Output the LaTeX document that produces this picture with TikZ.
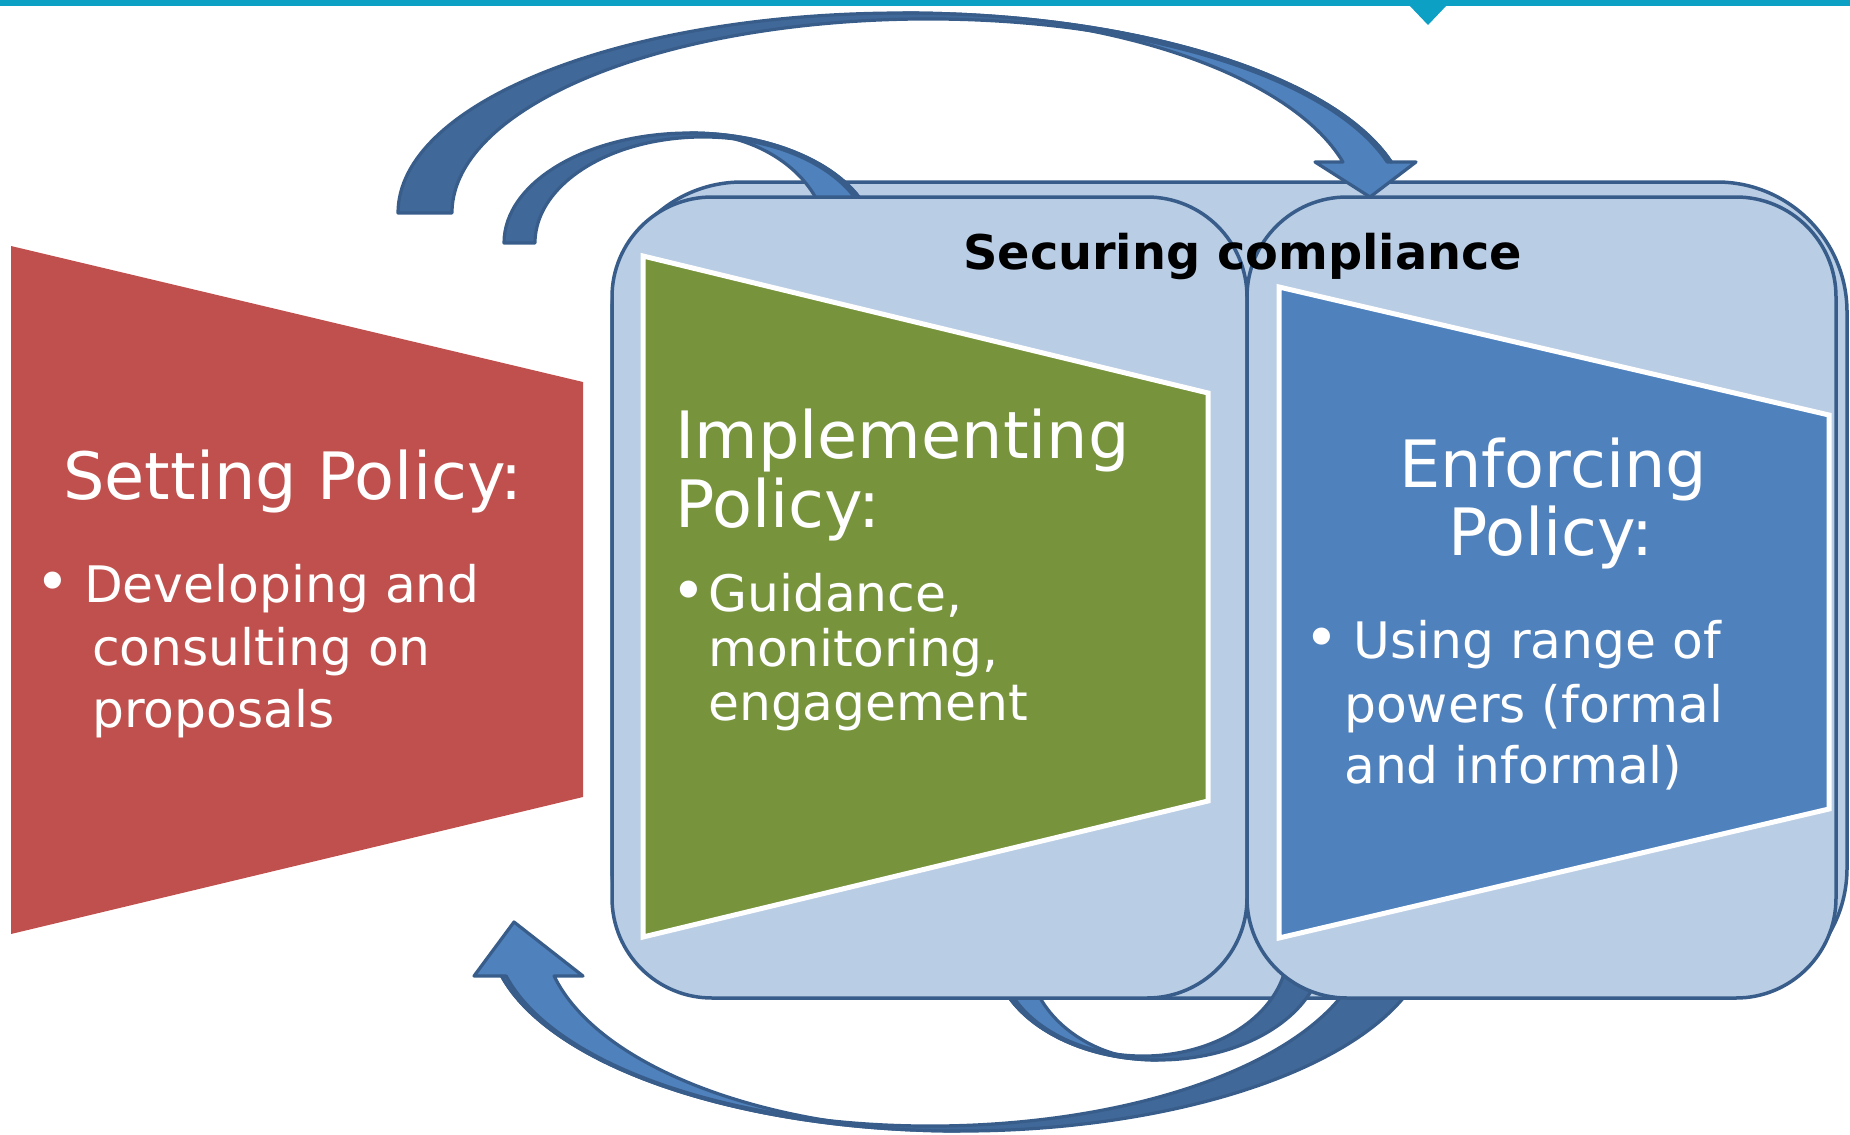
\documentclass[tikz,border=0pt]{standalone}
\usepackage{fontspec}
\setmainfont{DejaVu Sans}
\usetikzlibrary{calc}
\definecolor{barteal}{RGB}{11,160,196}
\definecolor{edgeblue}{RGB}{56,93,138}
\definecolor{paleblue}{RGB}{185,205,229}
\definecolor{frontblue}{RGB}{79,129,189}
\definecolor{backblue}{RGB}{64,104,152}
\definecolor{policyred}{RGB}{192,80,77}
\definecolor{policygreen}{RGB}{119,147,60}
\definecolor{policyblue}{RGB}{79,129,189}

\begin{document}
\begin{tikzpicture}[x=1pt,y=-1pt,
  panel/.style={draw=edgeblue,line width=3.5pt,fill=paleblue},
  front/.style={fill=frontblue,draw=edgeblue,line width=3.2pt,line join=round},
  back/.style={fill=backblue,draw=edgeblue,line width=3.2pt,line join=round},
  stage/.style={draw=white,line width=5pt},
  title/.style={text=white,font=\fontsize{65.3}{65.3}\selectfont,inner sep=0pt},
  item/.style={text=white,font=\fontsize{50.3}{50.3}\selectfont,inner sep=0pt,anchor=base west},
  dot/.style={text=white,font=\fontsize{59}{59}\selectfont,inner sep=0pt,anchor=base west},
]
\useasboundingbox (0,0) rectangle (1850,1135);

% header rule with its notch
\fill[barteal] (0,0) rectangle (1850,6);
\fill[barteal] (1409,5) -- (1447,5) -- (1428,25) -- cycle;

% setting policy block
\fill[policyred] (11,246) -- (583,382) -- (583,797) -- (11,934) -- cycle;

% compliance frame behind the two panels
\draw[panel, rounded corners=130pt] (612,182) rectangle (1847,998);

% large lower arrow (head on the left)
\path[front] ($(960,930)+(90:471 and 201)$)
  arc[start angle=90,end angle=166.77,x radius=471,y radius=201]
  -- (474,976) -- (514,922) -- (583,976)
  -- ($(960,930)+(166.77:417 and 201)$)
  arc[start angle=166.77,end angle=90,x radius=417,y radius=201] -- cycle;
\path[back] ($(960,930)+(12.94:471 and 201)$)
  arc[start angle=12.94,end angle=166.77,x radius=471,y radius=201]
  -- ($(930.5,930)+(166.43:436.6 and 196)$)
  arc[start angle=166.43,end angle=13.27,x radius=436.6,y radius=196] -- cycle;

% small lower arrow
\path[front] ($(1158,950)+(90:165 and 110)$)
  arc[start angle=90,end angle=161.45,x radius=165,y radius=110]
  -- ($(1158,950)+(161.45:131 and 110)$)
  arc[start angle=161.45,end angle=90,x radius=131,y radius=110] -- cycle;
\path[back] ($(1158,950)+(5.2:165 and 110)$)
  arc[start angle=5.2,end angle=161.45,x radius=165,y radius=110]
  -- ($(1143,950)+(160.72:144.7 and 106)$)
  arc[start angle=160.72,end angle=5.41,x radius=144.7,y radius=106] -- cycle;

% large upper arrow (head on the right)
\path[front] ($(903,213)+(270:505 and 200)$)
  arc[start angle=270,end angle=345.23,x radius=505,y radius=200]
  -- (1416,162) -- (1370,197) -- (1315,162)
  -- ($(903,213)+(345.23:455 and 200)$)
  arc[start angle=345.23,end angle=270,x radius=455,y radius=200] -- cycle;
\path[back] ($(903,213)+(180:505 and 200)$)
  arc[start angle=180,end angle=345.23,x radius=505,y radius=200]
  -- ($(928,213)+(344.76:476 and 194)$)
  arc[start angle=344.76,end angle=180,x radius=476,y radius=194] -- cycle;

% small upper arrow
\path[front] ($(690,243)+(270:186 and 110)$)
  arc[start angle=270,end angle=345.25,x radius=186,y radius=110]
  -- ($(690,243)+(345.25:138 and 110)$)
  arc[start angle=345.25,end angle=270,x radius=138,y radius=110] -- cycle;
\path[back] ($(690,243)+(180:186 and 110)$)
  arc[start angle=180,end angle=345.25,x radius=186,y radius=110]
  -- ($(703,243)+(344.7:168 and 106)$)
  arc[start angle=344.7,end angle=180,x radius=168,y radius=106] -- cycle;

% the two compliance panels
\draw[panel, rounded corners=100pt] (612,197) rectangle (1247,998);
\draw[panel, rounded corners=100pt] (1247,197) rectangle (1836,998);

% implementing and enforcing blocks
\filldraw[stage, fill=policygreen] (643,256) -- (1208,393) -- (1208,801) -- (643,937) -- cycle;
\filldraw[stage, fill=policyblue] (1279,287) -- (1829,415) -- (1829,809) -- (1279,938) -- cycle;

% labels
\node[font=\bfseries\fontsize{47.8}{47.8}\selectfont, anchor=base west, inner sep=0pt] (frameTitle) at (963,269) {Securing compliance};

\node[title, anchor=base west] (setTitle) at (63,499) {Setting Policy:};
\node[dot] (setDot) at (35,602) {•};
\node[item] (setA) at (84,602) {Developing and};
\node[item] (setB) at (92,665) {consulting on};
\node[item] (setC) at (92,727) {proposals};

\node[title, anchor=base west] (impTitleA) at (675,458) {Implementing};
\node[title, anchor=base west] (impTitleB) at (675,527) {Policy:};
\node[dot] (impDot) at (671,611) {•};
\node[item] (impA) at (708,611) {Guidance,};
\node[item] (impB) at (708,666) {monitoring,};
\node[item] (impC) at (708,720) {engagement};

\node[title, anchor=base] (enfTitleA) at (1553,487) {Enforcing};
\node[title, anchor=base] (enfTitleB) at (1551,555) {Policy:};
\node[dot] (enfDot) at (1304,658) {•};
\node[item] (enfA) at (1353,658) {Using range of};
\node[item] (enfB) at (1344,722) {powers (formal};
\node[item] (enfC) at (1344,783) {and informal)};
\end{tikzpicture}
\end{document}
